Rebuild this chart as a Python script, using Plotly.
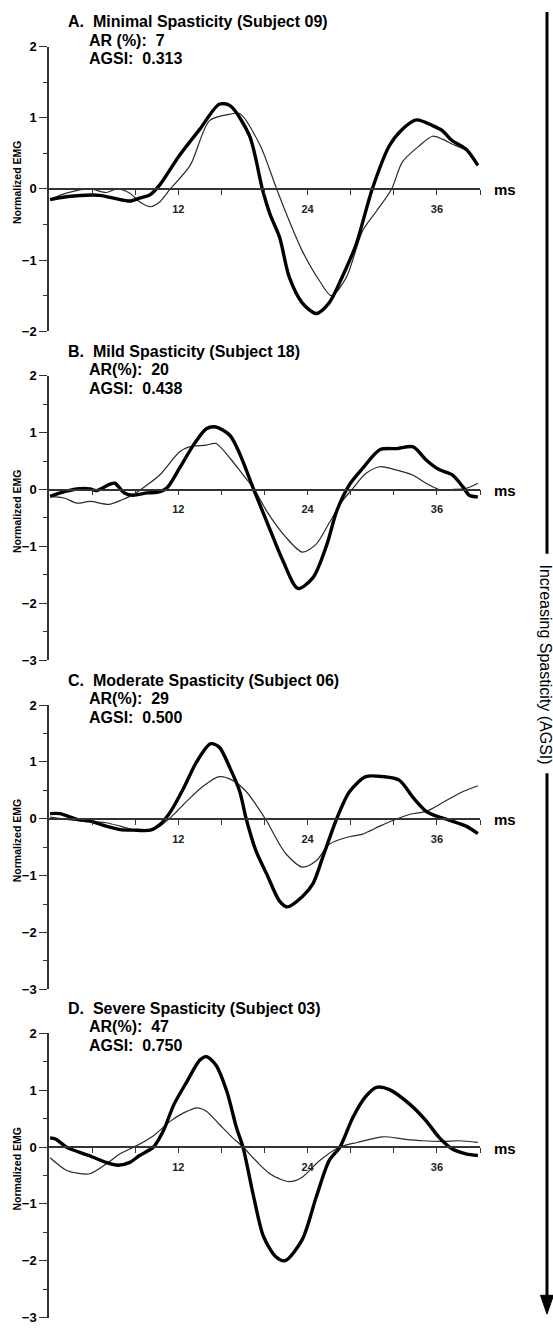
import plotly.graph_objects as go

W, H = 553, 1332

# ---------------- data (ms, normalized EMG) ----------------
a_thick_x = [0.1, 1.6, 4.7, 6.3, 7.5, 8.4, 9.4, 10.3, 12.1, 14.0, 15.8, 16.8, 18.6, 19.8, 20.5, 21.4, 22.3, 23.5, 24.8, 26.0, 27.2, 28.5, 30.0, 31.6, 32.8, 34.1, 35.6, 36.5, 37.4, 38.7, 39.8]
a_thick_y = [-0.15, -0.11, -0.09, -0.14, -0.17, -0.13, -0.08, 0.06, 0.47, 0.84, 1.19, 1.17, 0.75, 0.0, -0.35, -0.68, -1.24, -1.6, -1.75, -1.6, -1.24, -0.78, 0.0, 0.61, 0.84, 0.97, 0.89, 0.82, 0.68, 0.56, 0.33]
a_thin_x = [0.1, 1.6, 3.8, 5.3, 6.3, 7.5, 8.4, 9.4, 10.3, 11.2, 13.1, 14.9, 16.8, 17.7, 19.6, 21.1, 22.3, 23.5, 25.1, 26.2, 27.6, 29.1, 30.4, 31.8, 32.8, 34.4, 35.6, 36.5, 37.4, 38.7, 39.8]
a_thin_y = [-0.15, -0.06, 0.0, -0.05, 0.0, -0.06, -0.18, -0.25, -0.18, -0.01, 0.33, 0.96, 1.05, 1.06, 0.61, 0.01, -0.45, -0.87, -1.29, -1.5, -1.24, -0.59, -0.31, 0.0, 0.38, 0.61, 0.74, 0.7, 0.63, 0.54, 0.33]

b_thick_x = [0.1, 1.6, 2.6, 3.8, 4.4, 5.6, 6.1, 7.0, 7.8, 9.1, 10.0, 10.9, 12.1, 13.4, 14.6, 15.5, 16.8, 17.7, 19.0, 20.2, 21.7, 23.1, 24.5, 25.8, 26.7, 27.9, 29.1, 30.7, 32.3, 33.8, 35.0, 36.2, 37.4, 38.4, 39.0, 39.8]
b_thick_y = [-0.12, -0.03, 0.01, 0.01, -0.02, 0.09, 0.11, -0.06, -0.1, -0.06, -0.05, 0.02, 0.37, 0.78, 1.07, 1.1, 0.95, 0.63, 0.0, -0.56, -1.25, -1.74, -1.55, -0.96, -0.38, 0.09, 0.37, 0.7, 0.72, 0.75, 0.52, 0.35, 0.26, 0.05, -0.1, -0.13]
b_thin_x = [0.1, 1.4, 2.6, 3.8, 5.6, 6.8, 7.8, 9.1, 10.3, 12.1, 13.0, 14.6, 15.5, 16.8, 18.0, 19.0, 20.2, 21.9, 23.5, 24.8, 26.0, 27.2, 28.2, 29.4, 30.7, 32.3, 33.8, 35.0, 36.2, 37.4, 38.7, 39.8]
b_thin_y = [-0.12, -0.15, -0.24, -0.21, -0.26, -0.18, -0.09, 0.08, 0.26, 0.66, 0.75, 0.78, 0.81, 0.55, 0.26, 0.02, -0.38, -0.82, -1.1, -0.96, -0.59, -0.21, 0.02, 0.28, 0.4, 0.34, 0.25, 0.11, 0.0, 0.0, 0.02, 0.11]

c_thick_x = [0.1, 1.0, 2.6, 3.8, 5.3, 6.6, 7.8, 9.4, 10.3, 11.3, 12.5, 13.7, 15.0, 15.8, 16.8, 17.7, 18.3, 19.2, 20.2, 21.4, 22.1, 23.5, 24.5, 25.4, 26.7, 27.9, 29.4, 31.0, 32.5, 33.8, 35.0, 35.9, 37.4, 38.7, 39.8]
c_thick_y = [0.09, 0.09, -0.01, -0.04, -0.13, -0.19, -0.2, -0.2, -0.1, 0.13, 0.54, 1.0, 1.32, 1.26, 0.89, 0.48, 0.0, -0.56, -0.97, -1.45, -1.55, -1.37, -1.14, -0.68, 0.0, 0.48, 0.74, 0.74, 0.68, 0.37, 0.13, 0.05, -0.04, -0.13, -0.26]
c_thin_x = [0.1, 2.6, 5.3, 6.6, 7.8, 9.4, 10.3, 11.6, 12.8, 14.3, 15.8, 17.0, 18.3, 19.2, 20.2, 21.4, 22.0, 23.5, 24.8, 26.0, 27.6, 29.1, 30.7, 32.3, 33.5, 35.0, 36.5, 38.1, 39.8]
c_thin_y = [0.03, -0.03, -0.07, -0.13, -0.19, -0.2, -0.13, 0.08, 0.31, 0.57, 0.74, 0.68, 0.48, 0.25, -0.04, -0.45, -0.62, -0.85, -0.74, -0.45, -0.33, -0.27, -0.13, 0.0, 0.08, 0.13, 0.28, 0.45, 0.58]

d_thick_x = [0.1, 0.6, 1.6, 2.8, 4.1, 5.3, 6.4, 7.5, 8.4, 9.7, 10.6, 11.6, 12.8, 14.0, 14.6, 15.5, 16.5, 17.4, 18.0, 19.0, 19.9, 21.0, 21.9, 23.5, 24.8, 26.0, 27.0, 28.2, 29.4, 30.4, 31.6, 33.5, 35.0, 36.2, 37.4, 38.7, 39.8]
d_thick_y = [0.16, 0.14, 0.0, -0.09, -0.18, -0.27, -0.32, -0.27, -0.15, 0.0, 0.28, 0.75, 1.15, 1.53, 1.59, 1.44, 0.98, 0.34, 0.0, -0.88, -1.57, -1.92, -2.0, -1.63, -0.88, -0.24, 0.0, 0.52, 0.89, 1.05, 1.01, 0.75, 0.46, 0.17, -0.03, -0.12, -0.15]
d_thin_x = [0.1, 1.6, 2.6, 3.8, 5.3, 6.6, 8.1, 9.7, 11.3, 12.5, 13.7, 14.6, 15.8, 17.0, 18.0, 19.5, 20.5, 21.4, 22.3, 23.5, 25.1, 27.0, 28.6, 31.0, 32.9, 34.7, 36.5, 38.1, 39.8]
d_thin_y = [-0.19, -0.41, -0.46, -0.47, -0.3, -0.12, 0.02, 0.2, 0.46, 0.6, 0.69, 0.63, 0.4, 0.17, 0.0, -0.3, -0.47, -0.56, -0.61, -0.53, -0.24, 0.0, 0.08, 0.18, 0.14, 0.11, 0.1, 0.11, 0.08]

titles = ["A.\u00a0\u00a0Minimal Spasticity (Subject 09)", "B.\u00a0\u00a0Mild Spasticity (Subject 18)",
          "C.\u00a0\u00a0Moderate Spasticity (Subject 06)", "D.\u00a0\u00a0Severe Spasticity (Subject 03)"]
ar_labels = ["AR (%):\u00a0\u00a07", "AR(%):\u00a0\u00a020", "AR(%):\u00a0\u00a029", "AR(%):\u00a0\u00a047"]
agsi_labels = ["AGSI:\u00a0\u00a00.313", "AGSI:\u00a0\u00a00.438", "AGSI:\u00a0\u00a00.500", "AGSI:\u00a0\u00a00.750"]
y_ranges = [(-2, 2), (-3, 2), (-3, 2), (-3, 2)]
x_tickvals = [4, 8, 12, 16, 20, 24, 28, 32, 36, 40]
x_ticktext = ["", "", "12", "", "", "24", "", "", "36", ""]

series = [(a_thick_x, a_thick_y, a_thin_x, a_thin_y),
          (b_thick_x, b_thick_y, b_thin_x, b_thin_y),
          (c_thick_x, c_thick_y, c_thin_x, c_thin_y),
          (d_thick_x, d_thick_y, d_thin_x, d_thin_y)]

# ---------------- layout geometry (window pixels) ----------------
FONT = "Liberation Sans, Arial, sans-serif"
tops = [40, 373, 706, 1038]
units = [72, 57.5, 57.5, 57.5]
X0, X1 = 49, 480


def fx(px):
    return px / W


def fy(py):
    return 1 - py / H


fig = go.Figure()
layout = dict(width=W, height=H, margin=dict(l=0, r=0, t=0, b=0),
              paper_bgcolor="white", plot_bgcolor="white", showlegend=False,
              font=dict(family=FONT, color="black"))
annotations = []
shapes = []


def txt(s, x, y, size, anchor="left", angle=0, bold=True):
    annotations.append(dict(text=("<b>%s</b>" % s) if bold else s, x=fx(x), y=fy(y), xref="paper", yref="paper",
                            xanchor=anchor, yanchor="middle", textangle=angle, showarrow=False,
                            font=dict(size=size, family=FONT, color="black")))


for i in range(4):
    k = "" if i == 0 else str(i + 1)
    ymin, ymax = y_ranges[i]
    top = tops[i]
    bottom = top + (ymax - ymin) * units[i]
    zero_py = top + ymax * units[i]
    tx, ty, nx, ny = series[i]
    fig.add_trace(go.Scatter(x=nx, y=ny, mode="lines", line=dict(color="#2a2a2a", width=1.2, shape="spline", smoothing=0.8),
                             xaxis="x" + k, yaxis="y" + k, hoverinfo="skip"))
    fig.add_trace(go.Scatter(x=tx, y=ty, mode="lines", line=dict(color="black", width=3.4, shape="spline", smoothing=0.8),
                             xaxis="x" + k, yaxis="y" + k, hoverinfo="skip"))
    layout["xaxis" + k] = dict(domain=[fx(X0), fx(X1)], range=[0, 40], anchor="free", position=fy(zero_py),
                               showline=True, linecolor="#333", linewidth=1.5, showgrid=False, zeroline=False,
                               ticks="outside", ticklen=5, tickwidth=1.2, tickcolor="#333",
                               tickmode="array", tickvals=x_tickvals, ticktext=x_ticktext, ticklabelstandoff=5,
                               tickfont=dict(size=11, family=FONT, weight="bold", color="#222"), fixedrange=True)
    layout["yaxis" + k] = dict(domain=[fy(bottom), fy(top)], range=[ymin, ymax], anchor="x" + k,
                               showline=True, linecolor="#333", linewidth=1.5, showgrid=False, zeroline=False,
                               ticks="outside", ticklen=8, tickwidth=1.2, tickcolor="#333",
                               tickmode="linear", tick0=0, dtick=1,
                               minor=dict(dtick=0.5, ticks="outside", ticklen=4, tickcolor="#333", tickwidth=1.2),
                               tickfont=dict(size=13, family=FONT, weight="bold"), fixedrange=True)
    txt(titles[i], 66, top - 25, 16)
    txt(ar_labels[i], 87, top - 6.5, 16)
    txt(agsi_labels[i], 87, top + 12.5, 16)
    txt("ms", 492, zero_py + 1, 15)
    txt("Normalized EMG", 17, (top + bottom) / 2 - 6, 10.5, anchor="center", angle=-90)

# right-hand "increasing spasticity" arrow
AX = 547
shapes.append(dict(type="line", xref="paper", yref="paper", x0=fx(AX), x1=fx(AX), y0=fy(5), y1=fy(553),
                   line=dict(color="black", width=3)))
shapes.append(dict(type="line", xref="paper", yref="paper", x0=fx(AX), x1=fx(AX), y0=fy(775), y1=fy(1306),
                   line=dict(color="black", width=3)))
shapes.append(dict(type="path", xref="paper", yref="paper",
                   path="M %f %f L %f %f L %f %f Z" % (fx(AX - 6.5), fy(1303), fx(AX + 6.5), fy(1303), fx(AX), fy(1322)),
                   fillcolor="black", line=dict(color="black", width=1)))
txt("Increasing Spasticity (AGSI)", 545, 665, 16, anchor="center", angle=90, bold=False)

layout["annotations"] = annotations
layout["shapes"] = shapes
fig.update_layout(**layout)
# remove the default page margin so the 553x1332 figure fills the window exactly
fig.write_html("out.html", config={"displayModeBar": False},
               post_script="document.body.style.margin='0';document.body.style.overflow='hidden';")
